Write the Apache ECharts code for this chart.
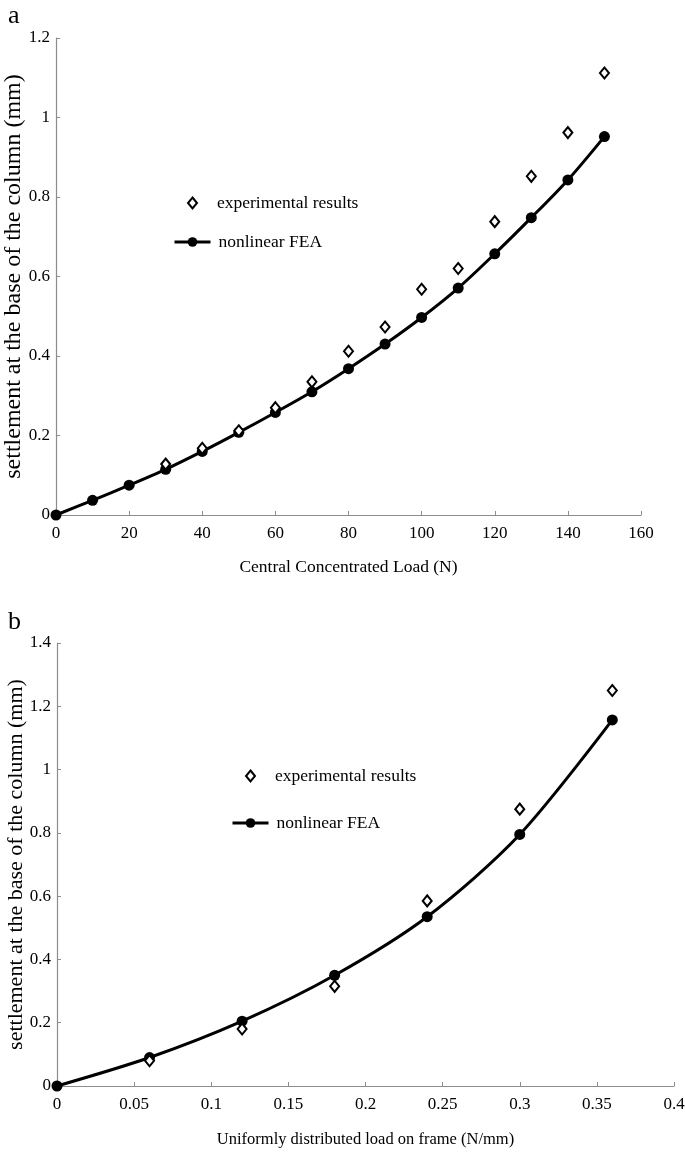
<!DOCTYPE html>
<html>
<head>
<meta charset="utf-8">
<script src="https://cdn.jsdelivr.net/npm/echarts@6/dist/echarts.min.js"></script>
<style>html,body{margin:0;padding:0;background:#fff}#c{width:685px;height:1153px}</style>
</head>
<body>
<div id="c"></div>
<script>
// Panel a
const loadA = [0, 10, 20, 30, 40, 50, 60, 70, 80, 90, 100, 110, 120, 130, 140, 150];
const feaA = [0, 0.037, 0.075, 0.115, 0.16, 0.208, 0.258, 0.31, 0.368, 0.43, 0.497, 0.571, 0.657, 0.748, 0.843, 0.952];
const expLoadA = [30, 40, 50, 60, 70, 80, 90, 100, 110, 120, 130, 140, 150];
const expA = [0.128, 0.168, 0.212, 0.27, 0.335, 0.412, 0.473, 0.568, 0.62, 0.738, 0.852, 0.962, 1.112];
// Panel b
const loadB = [0, 0.06, 0.12, 0.18, 0.24, 0.30, 0.36];
const feaB = [0, 0.09, 0.205, 0.35, 0.535, 0.795, 1.157];
const expLoadB = [0.06, 0.12, 0.18, 0.24, 0.30, 0.36];
const expB = [0.08, 0.18, 0.315, 0.585, 0.875, 1.25];

const names = ['experimental results', 'nonlinear FEA'];
const xTitles = ['Central Concentrated Load (N)', 'Uniformly distributed load on frame (N/mm)'];
const yTitle = 'settlement at the base of the column (mm)';
const panelLabels = ['a', 'b'];

const FONT = 'Liberation Serif';
const GREY = '#8c8c8c';
const zip = (xs, ys) => xs.map((x, i) => [x, ys[i]]);

function xAxis(idx, max, interval, name, nameSize, gap) {
  return {gridIndex: idx, type: 'value', min: 0, max: max, interval: interval,
    name: name, nameLocation: 'middle', nameGap: gap,
    nameTextStyle: {fontFamily: FONT, fontSize: nameSize, color: '#000'},
    axisLine: {lineStyle: {color: GREY, width: 1.2}},
    axisTick: {inside: true, length: 4, lineStyle: {color: GREY}},
    splitLine: {show: false},
    axisLabel: {fontFamily: FONT, fontSize: 17, color: '#000', margin: 10, showMaxLabel: true}};
}
function yAxis(idx, max, nameSize, gap) {
  return {gridIndex: idx, type: 'value', min: 0, max: max, interval: 0.2,
    name: yTitle, nameLocation: 'middle', nameGap: gap, nameMoveOverlap: false,
    nameTextStyle: {fontFamily: FONT, fontSize: nameSize, color: '#000'},
    axisLine: {show: true, lineStyle: {color: GREY, width: 1.2}},
    axisTick: {show: true, inside: true, length: 4, lineStyle: {color: GREY}},
    splitLine: {show: false},
    axisLabel: {fontFamily: FONT, fontSize: 17, color: '#000', margin: 6}};
}
const legTxt = {fontFamily: FONT, fontSize: 17.5, color: '#000'};
function diamondLegend(left, top) {
  return {data: [{name: names[0], icon: 'emptyDiamond'}], left: left, top: top, padding: 0,
    itemWidth: 9, itemHeight: 11, selectedMode: false,
    itemStyle: {color: '#000', borderColor: '#000', borderWidth: 2},
    textStyle: Object.assign({padding: [0, 0, 0, 15]}, legTxt)};
}
function lineLegend(left, top) {
  return {data: [names[1]], left: left, top: top, padding: 0,
    itemWidth: 36, itemHeight: 12, selectedMode: false,
    lineStyle: {width: 3, color: '#000'},
    textStyle: Object.assign({padding: [0, 0, 0, 3]}, legTxt)};
}

const chart = echarts.init(document.getElementById('c'));
chart.setOption({
  animation: false,
  backgroundColor: '#fff',
  title: [
    {text: panelLabels[0], left: 3, top: -2, textStyle: {fontFamily: FONT, fontSize: 26, fontWeight: 'normal', color: '#000'}},
    {text: panelLabels[1], left: 3, top: 604, textStyle: {fontFamily: FONT, fontSize: 26, fontWeight: 'normal', color: '#000'}}
  ],
  legend: [
    diamondLegend(187, 194),
    lineLegend(173, 233),
    diamondLegend(245, 767),
    lineLegend(231, 814)
  ],
  grid: [
    {left: 56, right: 44, top: 38, height: 477, outerBoundsMode: 'none'},
    {left: 57, right: 11, top: 643, height: 443, outerBoundsMode: 'none'}
  ],
  xAxis: [
    xAxis(0, 160, 20, xTitles[0], 17.5, 43),
    xAxis(1, 0.4, 0.05, xTitles[1], 16.5, 45)
  ],
  yAxis: [
    yAxis(0, 1.2, 24, 30),
    yAxis(1, 1.4, 22, 30)
  ],
  series: [
    {name: names[1], type: 'line', xAxisIndex: 0, yAxisIndex: 0, data: zip(loadA, feaA),
     smooth: 0.3, symbol: 'circle', symbolSize: 11, lineStyle: {color: '#000', width: 3},
     itemStyle: {color: '#000'}, z: 2},
    {name: names[0], type: 'scatter', xAxisIndex: 0, yAxisIndex: 0, data: zip(expLoadA, expA),
     symbol: 'emptyDiamond', symbolSize: [9, 11],
     itemStyle: {color: '#000', borderColor: '#000', borderWidth: 2, opacity: 1}, z: 3},
    {name: names[1], type: 'line', xAxisIndex: 1, yAxisIndex: 1, data: zip(loadB, feaB),
     smooth: 0.3, symbol: 'circle', symbolSize: 11, lineStyle: {color: '#000', width: 3},
     itemStyle: {color: '#000'}, z: 2},
    {name: names[0], type: 'scatter', xAxisIndex: 1, yAxisIndex: 1, data: zip(expLoadB, expB),
     symbol: 'emptyDiamond', symbolSize: [9, 11],
     itemStyle: {color: '#000', borderColor: '#000', borderWidth: 2, opacity: 1}, z: 3}
  ]
});
</script>
</body>
</html>
